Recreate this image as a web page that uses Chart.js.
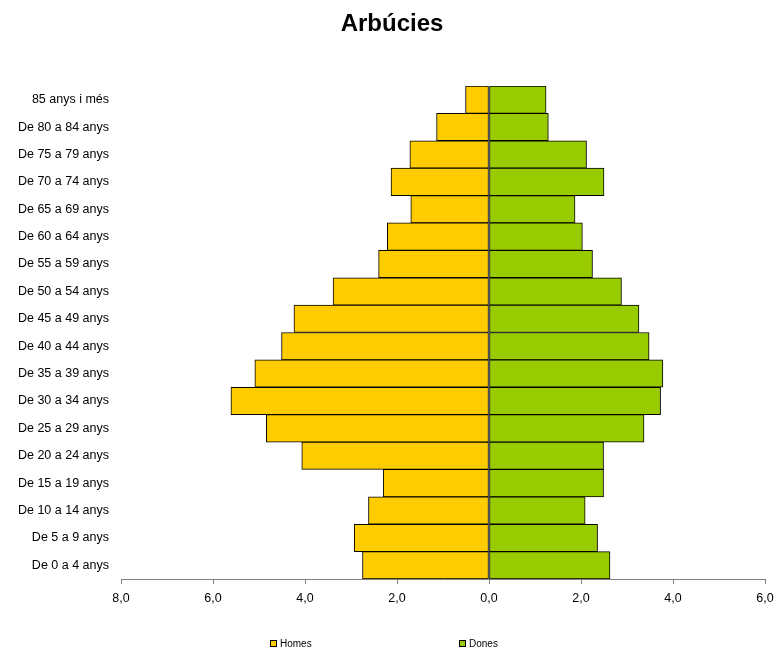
<!DOCTYPE html>
<html>
<head>
<meta charset="utf-8">
<script src="https://cdn.jsdelivr.net/npm/chart.js@4"></script>
<style>
html,body{margin:0;padding:0;background:#fff;}
#wrap{position:relative;width:779px;height:648px;}
</style>
</head>
<body>
<div id="wrap"><canvas id="c"></canvas></div>
<script>
const categories = ["85 anys i més","De 80 a 84 anys","De 75 a 79 anys","De 70 a 74 anys","De 65 a 69 anys","De 60 a 64 anys","De 55 a 59 anys","De 50 a 54 anys","De 45 a 49 anys","De 40 a 44 anys","De 35 a 39 anys","De 30 a 34 anys","De 25 a 29 anys","De 20 a 24 anys","De 15 a 19 anys","De 10 a 14 anys","De 5 a 9 anys","De 0 a 4 anys"];
const homes = [0.51,1.14,1.72,2.13,1.70,2.21,2.40,3.39,4.24,4.51,5.09,5.61,4.84,4.07,2.30,2.62,2.93,2.75];
const dones = [1.24,1.29,2.12,2.50,1.87,2.03,2.25,2.88,3.26,3.48,3.78,3.73,3.37,2.49,2.49,2.09,2.36,2.63];
const xTicks = [-8,-6,-4,-2,0,2,4,6];
const titleText = "Arbúcies";
const seriesNames = ["Homes","Dones"];
const seriesColors = ["#FFCC00","#99CC00"];

const decorPlugin = {
  id: 'decor',
  afterDraw(chart) {
    const ctx = chart.ctx;
    ctx.save();
    // title
    ctx.font = 'bold 24px "Liberation Sans", Arial, sans-serif';
    ctx.fillStyle = '#000';
    ctx.textAlign = 'center';
    ctx.textBaseline = 'middle';
    ctx.fillText(titleText, 392, 24);
    // legend
    const xs = [270, 459];
    ctx.font = '10px "Liberation Sans", Arial, sans-serif';
    ctx.textAlign = 'left';
    seriesNames.forEach((n, i) => {
      ctx.fillStyle = seriesColors[i];
      ctx.fillRect(xs[i], 640, 7, 7);
      ctx.strokeStyle = '#000';
      ctx.lineWidth = 1;
      ctx.strokeRect(xs[i] + 0.5, 640.5, 6, 6);
      ctx.fillStyle = '#000';
      ctx.fillText(n, xs[i] + 10, 644);
    });
    ctx.restore();
  }
};

new Chart(document.getElementById('c'), {
  type: 'bar',
  data: {
    labels: categories,
    datasets: [
      { label: seriesNames[0], data: homes.map(v => -v), backgroundColor: seriesColors[0], borderColor: '#000', borderWidth: 1, barPercentage: 1, categoryPercentage: 1, borderSkipped: false },
      { label: seriesNames[1], data: dones, backgroundColor: seriesColors[1], borderColor: '#000', borderWidth: 1, barPercentage: 1, categoryPercentage: 1, borderSkipped: false }
    ]
  },
  options: {
    indexAxis: 'y',
    responsive: true,
    maintainAspectRatio: false,
    animation: false,
    layout: { padding: { left: 0, right: 14, top: 86, bottom: 0 } },
    plugins: {
      legend: { display: false },
      tooltip: { enabled: false },
      title: { display: false }
    },
    scales: {
      x: {
        type: 'linear',
        stacked: true,
        min: -8,
        max: 6,
        afterBuildTicks(scale) { scale.ticks = xTicks.map(v => ({ value: v })); },
        afterFit(scale) { scale.height = 69; scale.paddingRight = 0; scale.paddingLeft = 0; },
        ticks: {
          color: '#000',
          font: { family: '"Liberation Sans", Arial, sans-serif', size: 12.5 },
          padding: 7,
          maxRotation: 0,
          callback: v => Math.abs(v).toFixed(1).replace('.', ',')
        },
        grid: { drawOnChartArea: false, drawTicks: true, tickLength: 5, color: '#808080' },
        border: { display: true, color: '#808080', width: 1 }
      },
      y: {
        stacked: true,
        afterFit(scale) { scale.width = 121; scale.paddingTop = 0; scale.paddingBottom = 0; },
        ticks: {
          color: '#000',
          font: { family: '"Liberation Sans", Arial, sans-serif', size: 12.5 },
          padding: 12
        },
        grid: { display: false, drawTicks: false },
        border: { display: false }
      }
    }
  },
  plugins: [decorPlugin]
});
</script>
</body>
</html>
